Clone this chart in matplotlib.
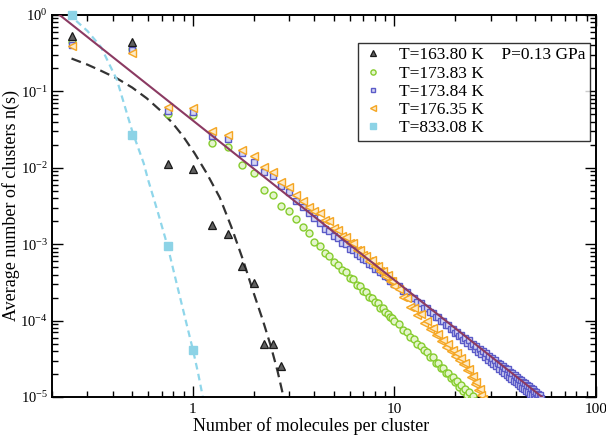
import numpy as np
import matplotlib
matplotlib.use('Agg')
import matplotlib.pyplot as plt
from matplotlib.ticker import LogLocator, NullFormatter

plt.rcParams['font.family'] = ['Liberation Serif', 'DejaVu Serif']
plt.rcParams['mathtext.fontset'] = 'custom'
plt.rcParams['mathtext.rm'] = 'Liberation Serif'
plt.rcParams['mathtext.it'] = 'Liberation Serif:italic'
plt.rcParams['font.size'] = 12

# cluster sizes (0.25 steps up to 10, then 0.5 steps)
cluster_size = np.concatenate([np.arange(1, 41) * 0.25, np.arange(21, 109) * 0.5])

# log10 of average cluster numbers
log_n_163 = [-0.27, -0.35, -1.95, -2.02, -2.75, -2.87, -3.29, -3.51, -4.30, -4.30, -4.60]

log_n_173_83 = [-0.35, -0.44, -1.29, -1.31, -1.67, -1.73, -1.96, -2.07, -2.29, -2.36,
                -2.50, -2.57, -2.67, -2.77, -2.86, -2.97, -3.02, -3.11, -3.15, -3.23,
                -3.27, -3.34, -3.37, -3.44, -3.46, -3.53, -3.55, -3.61, -3.63, -3.69,
                -3.70, -3.76, -3.77, -3.83, -3.84, -3.89, -3.91, -3.95, -3.97, -4.01,
                -4.05, -4.12, -4.15, -4.22, -4.24, -4.31, -4.33, -4.39, -4.41, -4.47,
                -4.48, -4.55, -4.55, -4.62, -4.62, -4.69, -4.68, -4.75, -4.74, -4.81,
                -4.79, -4.87, -4.84, -4.92, -4.89, -4.98, -4.94, -5.02, -4.99, -5.05]

log_n_173_84 = [-0.39, -0.46, -1.26, -1.27, -1.59, -1.62, -1.81, -1.92, -2.06, -2.11,
                -2.24, -2.32, -2.44, -2.51, -2.59, -2.66, -2.72, -2.80, -2.83, -2.89,
                -2.92, -2.98, -3.00, -3.06, -3.08, -3.13, -3.15, -3.20, -3.21, -3.26,
                -3.27, -3.32, -3.33, -3.37, -3.38, -3.42, -3.43, -3.48, -3.48, -3.52,
                -3.55, -3.61, -3.63, -3.69, -3.70, -3.76, -3.77, -3.83, -3.84, -3.89,
                -3.90, -3.95, -3.95, -4.01, -4.01, -4.06, -4.06, -4.11, -4.11, -4.16,
                -4.15, -4.20, -4.19, -4.25, -4.23, -4.29, -4.26, -4.33, -4.30, -4.37,
                -4.33, -4.41, -4.37, -4.44, -4.40, -4.48, -4.43, -4.51, -4.46, -4.54,
                -4.49, -4.57, -4.52, -4.60, -4.55, -4.63, -4.57, -4.66, -4.60, -4.68,
                -4.62, -4.71, -4.64, -4.74, -4.67, -4.76, -4.69, -4.79, -4.71, -4.81,
                -4.74, -4.83, -4.76, -4.86, -4.78, -4.88, -4.80, -4.90, -4.82, -4.92,
                -4.84, -4.94, -4.86, -4.96, -4.88, -4.98, -4.90, -5.00, -4.92, -5.02,
                -4.94, -5.04, -4.96, -5.06, -4.98, -5.06, -5.01, -5.05]

log_n_176_35 = [-0.40, -0.50, -1.21, -1.22, -1.52, -1.57, -1.77, -1.85, -1.99, -2.06,
                -2.18, -2.25, -2.36, -2.44, -2.51, -2.57, -2.59, -2.68, -2.70, -2.79,
                -2.81, -2.89, -2.90, -2.98, -2.99, -3.07, -3.07, -3.14, -3.15, -3.22,
                -3.21, -3.29, -3.28, -3.35, -3.35, -3.41, -3.40, -3.48, -3.48, -3.55,
                -3.58, -3.69, -3.71, -3.82, -3.83, -3.93, -3.92, -4.03, -4.01, -4.11,
                -4.10, -4.19, -4.18, -4.27, -4.25, -4.34, -4.31, -4.40, -4.38, -4.46,
                -4.43, -4.52, -4.49, -4.57, -4.55, -4.65, -4.64, -4.74, -4.73, -4.83,
                -4.81, -4.91, -4.89, -4.98, -5.02]

log_n_833 = [0.0, -1.57, -3.03, -4.38]

# fitted curves
fit_163_x = [0.25, 0.3, 0.35, 0.42, 0.5, 0.59, 0.69, 0.79, 0.89, 1.02, 1.17, 1.36, 1.55,
             1.77, 1.98, 2.22, 2.44, 2.63, 2.85]
fit_163_log = [-0.57, -0.65, -0.73, -0.83, -0.95, -1.09, -1.25, -1.41, -1.58, -1.81,
               -2.07, -2.39, -2.77, -3.20, -3.60, -3.99, -4.34, -4.66, -5.06]
fit_833_x = [0.24, 0.30, 0.35, 0.42, 0.5, 0.57, 0.6, 0.67, 0.75, 0.83, 0.91, 1.0, 1.06, 1.13]
fit_833_log = [0.02, -0.21, -0.42, -0.85, -1.52, -1.94, -2.16, -2.58, -3.03, -3.51, -3.94,
               -4.38, -4.68, -5.05]
power_x = [0.2, 54]
power_y = [1.2, 1.0e-5]

fig = plt.figure(figsize=(6.06, 4.38), dpi=100)
ax = fig.add_axes([0.0858, 0.0936, 0.8977, 0.8722])

ax.plot(power_x, power_y, color='#8b3a62', lw=1.5, zorder=5)
ax.plot(fit_163_x, 10 ** np.array(fit_163_log), color='#333333', lw=1.6,
        dashes=(4.5, 2.5), zorder=2)
ax.plot(fit_833_x, 10 ** np.array(fit_833_log), color='#8fd6ea', lw=1.6,
        dashes=(3, 2), zorder=2)

ax.plot(cluster_size[:len(log_n_163)], 10 ** np.array(log_n_163), '^', ls='none',
        ms=5.5, mfc='#606060', mec='#1a1a1a', mew=0.9,
        label='T=163.80 K    P=0.13 GPa', zorder=4)
ax.plot(cluster_size[:len(log_n_173_83)], 10 ** np.array(log_n_173_83), 'o', ls='none',
        ms=5, mfc='#e4f5cc', mec='#86cc2e', mew=1.0, label='T=173.83 K', zorder=3)
ax.plot(cluster_size[:len(log_n_173_84)], 10 ** np.array(log_n_173_84), 's', ls='none',
        ms=4.5, mfc='#d6d6f2', mec='#5b5bc8', mew=1.0, label='T=173.84 K', zorder=3)
ax.plot(cluster_size[:len(log_n_176_35)], 10 ** np.array(log_n_176_35), '<', ls='none',
        ms=5.5, mfc='#fdebc8', mec='#f5a623', mew=1.0, label='T=176.35 K', zorder=3)
ax.plot(cluster_size[:len(log_n_833)], 10 ** np.array(log_n_833), 's', ls='none',
        ms=5.5, mfc='#8dd3e6', mec='#8dd3e6', label='T=833.08 K', zorder=4, clip_on=False)

ax.set_xscale('log')
ax.set_yscale('log')
ax.set_xlim(0.2, 100)
ax.set_ylim(1e-5, 1)
ax.set_xticks([1, 10, 100], labels=['1', '10', '100'])
ax.xaxis.set_minor_locator(LogLocator(base=10, subs=np.arange(2, 10)))
ax.xaxis.set_minor_formatter(NullFormatter())
ax.yaxis.set_major_locator(LogLocator(base=10, numticks=10))
ax.yaxis.set_minor_locator(LogLocator(base=10, subs=np.arange(2, 10), numticks=20))
ax.yaxis.set_minor_formatter(NullFormatter())
ax.tick_params(which='both', direction='in', top=True, right=True, width=1.0)
ax.tick_params(which='major', length=8, labelsize=10.5, pad=3)
ax.tick_params(axis='x', which='major', labelsize=11, pad=4)
ax.tick_params(which='minor', length=4)
for sp in ax.spines.values():
    sp.set_linewidth(1.4)

ax.set_xlabel('Number of molecules per cluster', fontsize=13)
ax.xaxis.set_label_coords(0.476, -0.052)
ax.set_ylabel('Average number of clusters n(s)', fontsize=13)
ax.yaxis.set_label_coords(-0.058, 0.5)

leg = ax.legend(loc='upper right', bbox_to_anchor=(0.989, 0.927), borderaxespad=0,
                fontsize=12.5, frameon=True, fancybox=False, edgecolor='black',
                markerscale=0.75, handlelength=1.2, handletextpad=0.9,
                labelspacing=0.12, borderpad=0.25)
leg.get_frame().set_linewidth(1.0)

fig.savefig('out.png', dpi=100)
